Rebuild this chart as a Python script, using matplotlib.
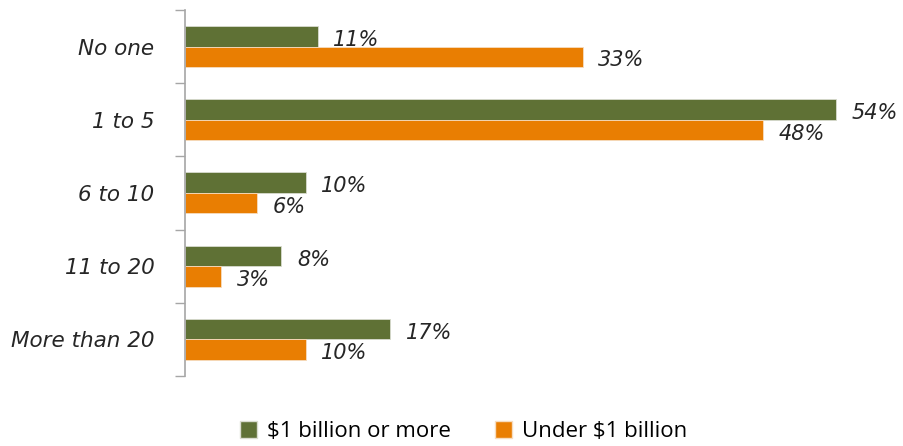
import numpy as np
import matplotlib
matplotlib.use("Agg")
import matplotlib.pyplot as plt
from matplotlib.patches import Patch

categories = ["No one", "1 to 5", "6 to 10", "11 to 20", "More than 20"]
large_orgs = [11, 54, 10, 8, 17]     # $1 billion or more
small_orgs = [33, 48, 6, 3, 10]      # Under $1 billion
series_names = ["$1 billion or more", "Under $1 billion"]

green = "#5f7135"
orange = "#e97e02"
text_col = "#262626"
lab_font = "DejaVu Sans"

fig = plt.figure(figsize=(9.04, 4.46), dpi=100)
ax = fig.add_axes([0.2047, 0.157, 0.733, 0.8206])

y = np.arange(len(categories))
h = 0.28
ax.barh(y - h / 2, large_orgs, height=h, color=green, edgecolor="#d9dccf", linewidth=0.6)
ax.barh(y + h / 2, small_orgs, height=h, color=orange, edgecolor="#f6dcc0", linewidth=0.6)

lab = dict(fontsize=15, style="italic", family=lab_font, color=text_col, va="center", ha="left")
for i, v in enumerate(large_orgs):
    ax.text(v + 1.3, i - h / 2 + 0.05, f"{v}%", **lab)
for i, v in enumerate(small_orgs):
    ax.text(v + 1.3, i + h / 2 + 0.05, f"{v}%", **lab)

ax.set_xlim(0, 55)
ax.set_ylim(len(categories) - 0.5, -0.5)

# tick marks on category boundaries, labels at category centres
ax.set_yticks(np.arange(-0.5, len(categories)), labels=[])
ax.set_yticks(y, labels=categories, minor=True)
ax.tick_params(axis="y", which="major", length=7, width=1, color="#a6a6a6", direction="out")
ax.tick_params(axis="y", which="minor", length=0, pad=22, labelsize=15.5, labelcolor=text_col)
for t in ax.get_yticklabels(minor=True):
    t.set_fontstyle("italic")
    t.set_family(lab_font)
ax.set_xticks([])

for s in ["top", "right", "bottom"]:
    ax.spines[s].set_visible(False)
ax.spines["left"].set_color("#a6a6a6")
ax.spines["left"].set_linewidth(1.2)

handles = [Patch(facecolor=green, edgecolor="#d9dccf"), Patch(facecolor=orange, edgecolor="#f6dcc0")]
fig.legend(handles, series_names, loc="center", bbox_to_anchor=(0.513, 0.032), ncol=2,
           frameon=False, handlelength=0.75, handleheight=0.75,
           handletextpad=0.45, columnspacing=2.0, prop={"family": "Open Sans", "size": 16})

fig.savefig("out.png", dpi=100, facecolor="white")
